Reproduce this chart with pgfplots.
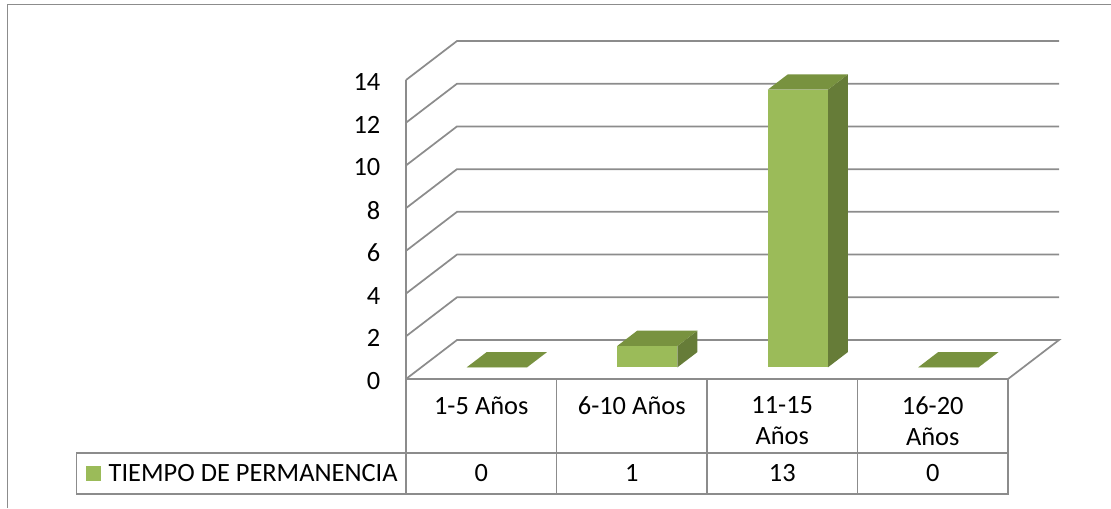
\documentclass[border=0pt]{standalone}
\usepackage{fontspec}
\setmainfont{Carlito}
\usepackage{pgfplots}
\pgfplotsset{compat=1.18}

% reference pixel = 0.75pt
\def\px{0.75pt}
\definecolor{barfront}{HTML}{9BBB59}
\definecolor{bartop}{HTML}{78923F}
\definecolor{barside}{HTML}{667C38}
\definecolor{gridgray}{HTML}{8C8C8C}
\newcommand{\chartfont}{\fontsize{19.8}{23}\selectfont}

% one box of the 3d column: x from #1 to #2, height #3
\newcommand{\column}[3]{%
  \addplot3[draw=none,fill=barside] coordinates {(#2,0.3,0) (#2,0.69,0) (#2,0.69,#3) (#2,0.3,#3)};
  \addplot3[draw=none,fill=barfront] coordinates {(#1,0.3,0) (#2,0.3,0) (#2,0.3,#3) (#1,0.3,#3)};
  \addplot3[draw=none,fill=bartop] coordinates {(#1,0.3,#3) (#2,0.3,#3) (#2,0.69,#3) (#1,0.69,#3)};
}
\newcommand{\gridlevel}[1]{%
  \addplot3[gridgray,line width=1.3pt] coordinates {(0,0,#1) (0,1,#1) (4,1,#1)};
}

\begin{document}
\begin{tikzpicture}[x=\px,y=\px]
\begin{axis}[
    x={(150.5*\px,0)},
    y={(51*\px,39*\px)},
    z={(0,21.357*\px)},
    xmin=0,xmax=4,ymin=0,ymax=1,zmin=0,zmax=14,
    clip=false,
    axis line style={draw=none},
    tick style={draw=none},
    xtick={0.5,1.5,2.5,3.5},
    xticklabels={1-5\kern-2pt{} Años,6-10\kern-2pt{} Años,11-15\\Años,16-20\\Años},
    ytick=\empty,
    ztick={0,2,...,14},
    /pgf/number format/assume math mode=true,
    tick label style={font=\chartfont},
    xticklabel style={align=center,text width=135*\px,anchor=north,yshift=-13*\px},
    zticklabel style={anchor=east,xshift=-21*\px,yshift=-2*\px},
  ]
  \coordinate (O) at (axis cs:0,0,0);
  \gridlevel{2}\gridlevel{4}\gridlevel{6}\gridlevel{8}\gridlevel{10}\gridlevel{12}\gridlevel{14}
  \addplot3[gridgray,line width=1.3pt] coordinates {(0,0,14) (0,0,0) (4,0,0) (4,1,0) (0,1,0) (0,0,0)};
  \column{0.302}{0.702}{0}
  \column{1.302}{1.702}{1}
  \column{2.302}{2.702}{13}
  \column{3.302}{3.702}{0}
\end{axis}
% page, frame and data table, in reference pixels
\pgfresetboundingbox
\path[use as bounding box,shift={(O)},shift={(-406,379)}] (0,0) rectangle (1111,-508);
\begin{scope}[shift={(O)},shift={(-406,379)},y=-\px,gridgray,line width=1.1pt]
  \draw (7.5,508) -- (7.5,4.5) -- (1111,4.5);
  \draw (76.5,453) rectangle (1008,494);
  \foreach \xx in {406,556.7,707,857.3,1008} \draw (\xx,379) -- (\xx,494);
  \fill[barfront] (86,466) rectangle (101,481);
  \node[black,anchor=west,inner sep=0pt,font=\chartfont] at (108,473.5) {TIEMPO DE PERMANENCIA};
  \foreach \xx/\val in {481.3/0,631.8/1,782.3/13,932.8/0}
    \node[black,font=\chartfont] at (\xx,473.5) {\val};
\end{scope}
\end{tikzpicture}
\end{document}
